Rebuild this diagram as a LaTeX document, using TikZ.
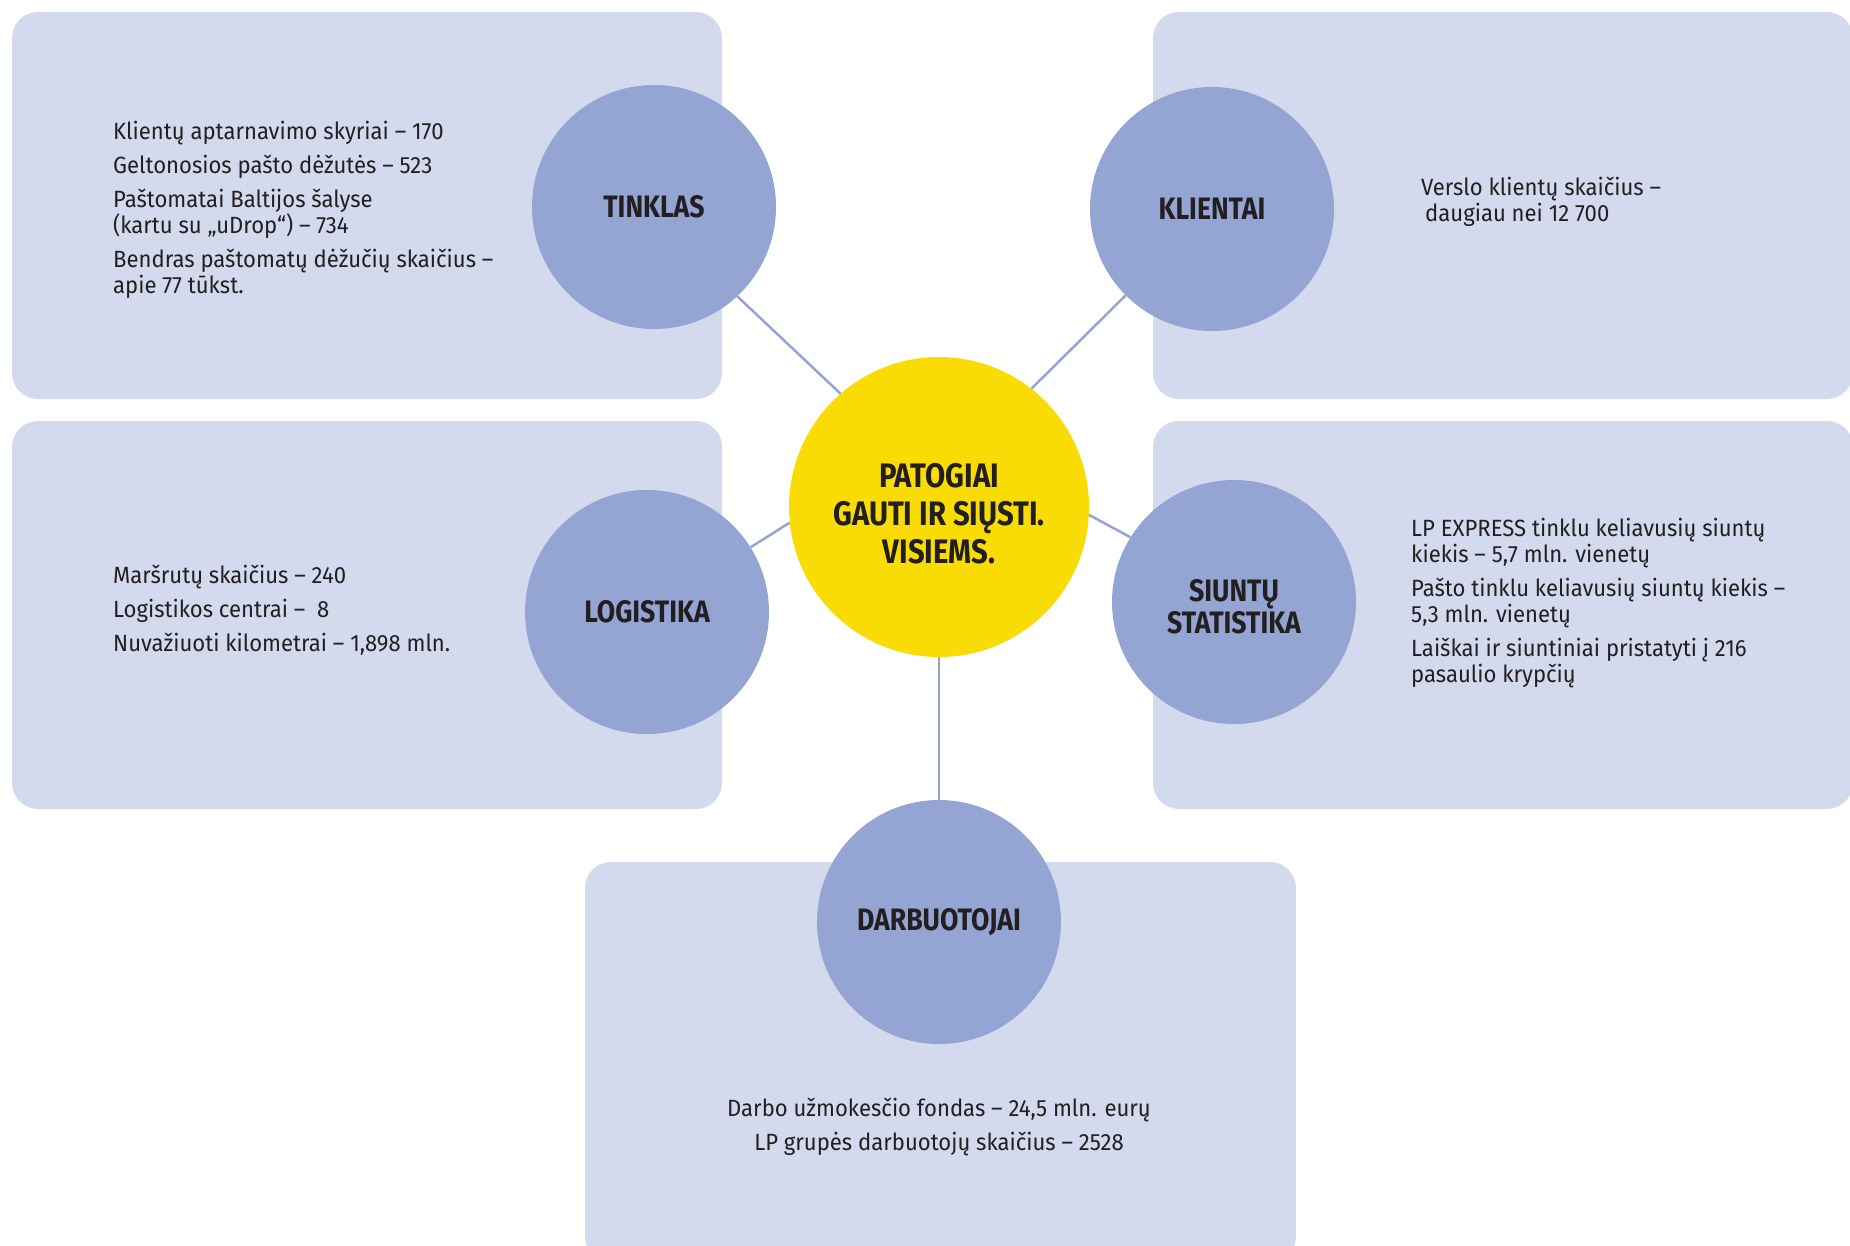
\documentclass[tikz,border=0pt]{standalone}
\usepackage{fontspec}
\setmainfont{Fira Sans}[FakeStretch=0.86]
\newfontfamily\factfont{Fira Sans}[FakeStretch=0.94]
\usetikzlibrary{positioning}
\definecolor{panelfill}{HTML}{D3DAED}
\definecolor{topicfill}{HTML}{94A5D4}
\definecolor{hubfill}{HTML}{F9DC06}
\definecolor{inkdark}{HTML}{231F20}
\tikzstyle{panel} = [fill=panelfill, rectangle, rounded corners=26pt, inner sep=0]
\tikzstyle{topic} = [fill=topicfill, circle, minimum size=244pt, inner sep=0,
align=center, text=inkdark, font=\fontsize{31}{32}\selectfont\bfseries]
\tikzstyle{hub} = [fill=hubfill, circle, minimum size=300pt, inner sep=0]
\tikzstyle{hubtext} = [align=center, inner sep=0, text=inkdark,
font=\fontsize{34}{38}\selectfont\bfseries]
\tikzstyle{topictext} = [align=center, inner sep=0, text=inkdark,
font=\fontsize{31}{32}\selectfont\bfseries]
\tikzstyle{facts} = [anchor=north west, inner sep=0, align=left, text=inkdark,
font=\factfont\fontsize{23.5}{26}\selectfont]
\tikzstyle{link} = [draw=topicfill, line width=2.5pt]

\begin{document}
\begin{tikzpicture}[x=1pt, y=-1pt]
    \useasboundingbox (0,0) rectangle (1850,1245);
    % panels behind everything
    \node [panel, minimum width=710pt, minimum height=387pt] (netPanel) at (367,205.5) {};
    \node [panel, minimum width=700pt, minimum height=387pt] (clientPanel) at (1503,205.5) {};
    \node [panel, minimum width=710pt, minimum height=388pt] (logPanel) at (367,615) {};
    \node [panel, minimum width=700pt, minimum height=388pt] (parcelPanel) at (1503,615) {};
    \node [panel, minimum width=711pt, minimum height=400pt] (staffPanel) at (940.5,1062) {};

    % hub and topics
    \node [hub, label={[hubtext, yshift=-7pt]center:PATOGIAI\\GAUTI IR SIŲSTI.\\VISIEMS.}] (hub) at (939,507) {};
    \node [topic] (tinklas) at (654,207) {TINKLAS};
    \node [topic] (klientai) at (1212,209) {KLIENTAI};
    \node [topic] (logistika) at (647,612) {LOGISTIKA};
    \node [topic, label={[topictext, yshift=-5pt]center:SIUNTŲ\\STATISTIKA}] (siuntos) at (1234,602) {};
    \node [topic] (darbuotojai) at (939,922) {DARBUOTOJAI};

    % connectors
    \draw [link] (hub.131) -- (tinklas.313);
    \draw [link] (hub.52) -- (klientai.225);
    \draw [link] (hub.186) -- (logistika.32);
    \draw [link] (hub.357) -- (siuntos.148);
    \draw [link] (hub.south) -- (darbuotojai.north);

    % facts in the panels
    \node [facts] (netFacts) at (113,121) {Klientų aptarnavimo skyriai – 170\\[8pt]
        Geltonosios pašto dėžutės – 523\\[8pt]
        Paštomatai Baltijos šalyse\\(kartu su „uDrop“) – 734\\[8pt]
        Bendras paštomatų dėžučių skaičius –\\apie 77 tūkst.};
    \node [facts] (clientFacts) at (1421,177) {Verslo klientų skaičius –\\\hspace*{4pt}daugiau nei 12 700};
    \node [facts] (logFacts) at (113,565) {Maršrutų skaičius – 240\\[8pt]
        Logistikos centrai – \ 8\\[8pt]
        Nuvažiuoti kilometrai – 1,898 mln.};
    \node [facts] (parcelFacts) at (1411,518) {LP EXPRESS tinklu keliavusių siuntų\\kiekis – 5,7 mln. vienetų\\[8pt]
        Pašto tinklu keliavusių siuntų kiekis –\\5,3 mln. vienetų\\[8pt]
        Laiškai ir siuntiniai pristatyti į 216\\pasaulio krypčių};
    \node [facts, anchor=north, align=center] (staffFacts) at (939,1098) {Darbo užmokesčio fondas – 24,5 mln. eurų\\[8pt]
        LP grupės darbuotojų skaičius – 2528};
\end{tikzpicture}
\end{document}
